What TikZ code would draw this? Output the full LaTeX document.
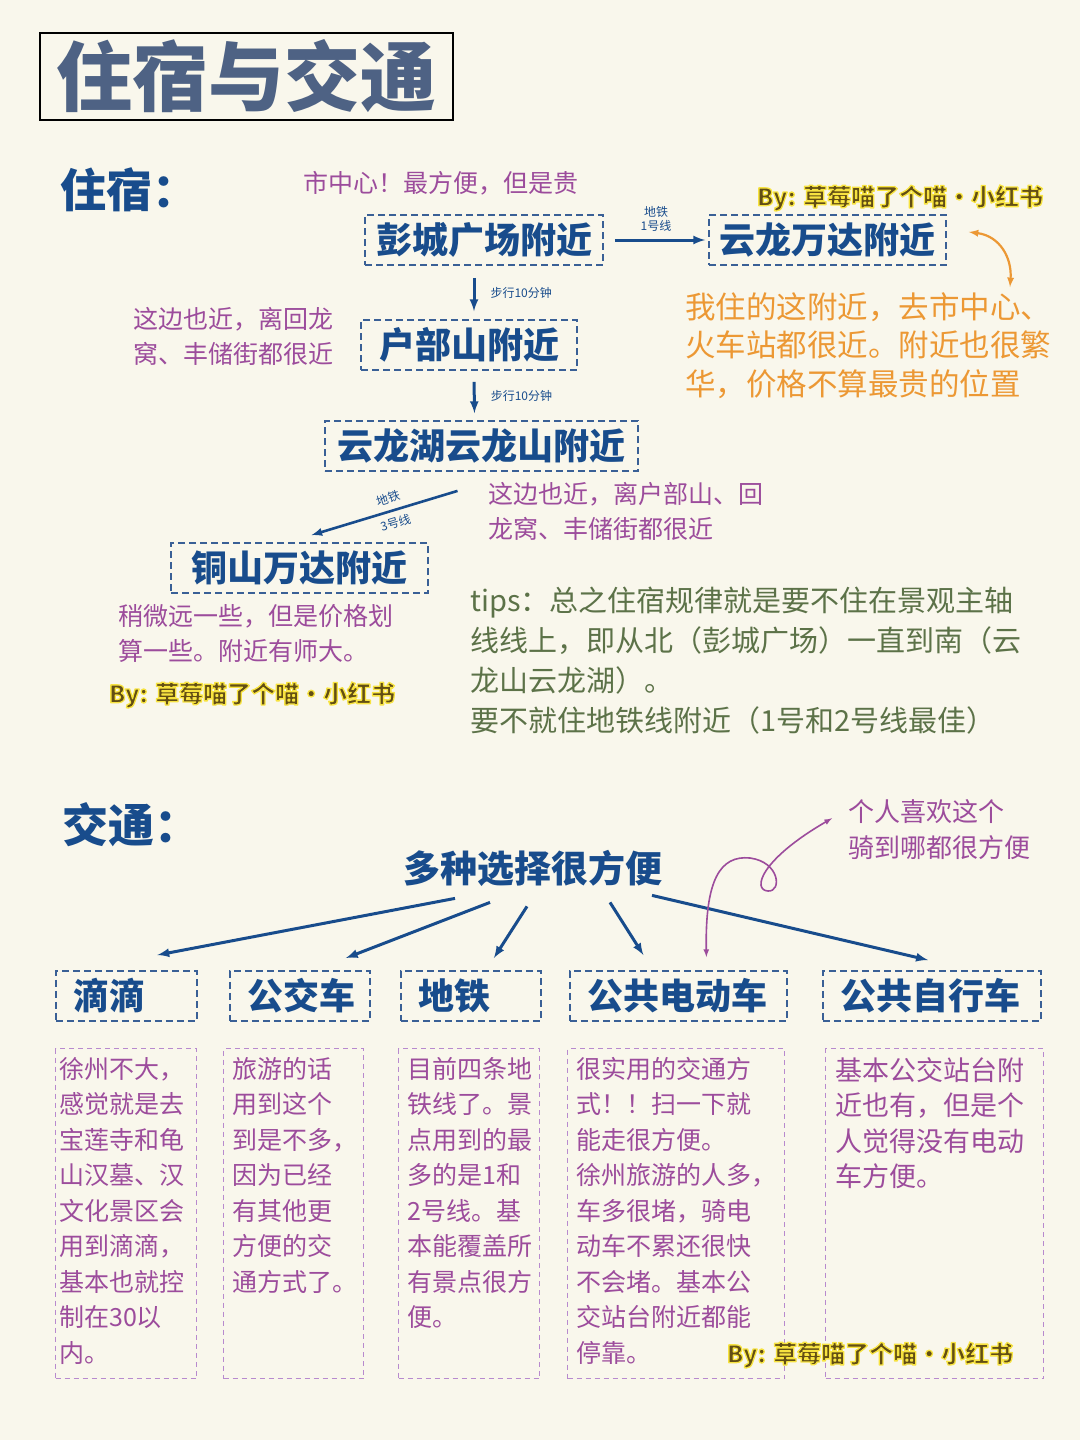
\documentclass[tikz,border=0pt]{standalone}
\usepackage{fontspec}
\setmainfont{Noto Sans CJK SC}
\usepackage{xcolor}
\usetikzlibrary{arrows,positioning}
\definecolor{qpaper}{RGB}{249,247,236}
\definecolor{qnavy}{RGB}{24,76,140}
\definecolor{qbox}{RGB}{58,96,150}
\definecolor{qslate}{RGB}{78,98,132}
\definecolor{qpurple}{RGB}{156,76,156}
\definecolor{qlilac}{RGB}{184,138,206}
\definecolor{qorange}{RGB}{236,152,52}
\definecolor{qgreen}{RGB}{92,114,72}
\definecolor{qolive}{RGB}{98,78,20}
\newcommand\glowtext[1]{\special{pdf:literal direct 1 j 1.3 w 0.97 0.89 0.25 RG 2 Tr}#1\special{pdf:literal direct 0 Tr 0 j}}

\tikzset{
  place/.style={draw=qbox, dash pattern=on 7pt off 4pt, line width=1.8pt, text=qnavy,
    font=\fontsize{36}{40}\selectfont\bfseries, minimum height=50pt, inner sep=0pt},
  mode/.style={place, anchor=north west, inner xsep=18pt, align=left},
  detail/.style={draw=qlilac, dash pattern=on 5pt off 4pt, line width=1.4pt,
    anchor=north west, minimum height=330pt},
  memo/.style={text=qpurple, font=\fontsize{25}{35.5}\selectfont, align=left, inner sep=0pt},
  head/.style={text=qnavy, font=\fontsize{46}{50}\selectfont\bfseries, inner sep=0pt},
  go/.style={draw=qnavy, line width=3pt, -latex},
  tiny/.style={text=qnavy, font=\fontsize{12}{14}\selectfont, inner sep=0pt, align=center},
  stamp/.style={text=qolive, font=\fontsize{24}{26}\selectfont\bfseries, inner sep=0pt},
}

\begin{document}
\begin{tikzpicture}[x=1pt,y=-1pt]
\fill[qpaper] (0,0) rectangle (1080,1440);
\useasboundingbox (0,0) rectangle (1080,1440);

\node[draw, line width=2.5pt, minimum width=413pt, minimum height=87pt, inner sep=0pt,
  text=qslate, font=\fontsize{76}{80}\selectfont\bfseries] (title) at (246.5,76.5) {住宿与交通};

\node[head, anchor=west] (zs) at (60,190) {住宿：};
\node[memo, anchor=west] (center) at (303,183) {市中心！最方便，但是贵};

\node[place, minimum width=238pt] (pc) at (484,240) {彭城广场附近};
\node[place, minimum width=237pt] (yl) at (827.5,240) {云龙万达附近};
\node[place, minimum width=216pt] (hbs) at (469,345) {户部山附近};
\node[place, minimum width=313pt] (ylh) at (481.5,446) {云龙湖云龙山附近};
\node[place, minimum width=257pt] (tsw) at (299.5,568) {铜山万达附近};

\draw[go, shorten <=11pt, shorten >=3pt] (pc.east) -- (yl.west)
  node[midway, above=7pt, tiny] (m1) {地铁\\1号线};
\draw[go, shorten <=12pt, shorten >=8pt] ([xshift=-10pt]pc.south) -- ([xshift=5pt]hbs.north)
  node[midway, right=15pt, tiny] (w1) {步行10分钟};
\draw[go, shorten <=11pt, shorten >=7pt] ([xshift=5pt]hbs.south) -- ([xshift=-7pt]ylh.north)
  node[midway, right=15pt, tiny] (w2) {步行10分钟};
\draw[go, line width=2.6pt] ([xshift=-24pt,yshift=-19pt]ylh.south) -- ([xshift=12pt,yshift=7pt]tsw.north)
  node[pos=0.45, above=6pt, sloped, tiny] (m3a) {地铁}
  node[pos=0.45, below=6pt, sloped, tiny] (m3b) {3号线};

\node[stamp] (wm1) at (900,198) {\glowtext{By: 草莓喵了个喵·小红书}};
\coordinate (oa) at (1010,287);
\draw[qorange, line width=2.2pt, latex-latex] ([xshift=22pt,yshift=8pt]yl.east)
  .. controls (1000,236) and (1012,258) .. (oa);
\node[anchor=north west, text=qorange, font=\fontsize{30.5}{38.5}\selectfont, align=left, inner sep=0pt] (yltxt)
  at (685,292) {我住的这附近，去市中心、\\火车站都很近。附近也很繁\\华，价格不算最贵的位置};

\node[memo, anchor=north west] (hbstxt) at (133,307) {这边也近，离回龙\\窝、丰储街都很近};
\node[memo, anchor=north west] (ylhtxt) at (488,482) {这边也近，离户部山、回\\龙窝、丰储街都很近};
\node[memo, anchor=north west] (tswtxt) at (118,604) {稍微远一些，但是价格划\\算一些。附近有师大。};
\node[stamp] (wm2) at (252,695) {\glowtext{By: 草莓喵了个喵·小红书}};

\node[anchor=north west, text=qgreen, font=\fontsize{29}{40}\selectfont, align=left, inner sep=0pt] (tips)
  at (470,587) {tips：总之住宿规律就是要不住在景观主轴\\线线上，即从北（彭城广场）一直到南（云\\龙山云龙湖）。\\要不就住地铁线附近（1号和2号线最佳）};

\node[head, anchor=west] (jt) at (62,825) {交通：};
\node[text=qnavy, font=\fontsize{37}{40}\selectfont\bfseries, inner sep=0pt] (hub) at (533,868) {多种选择很方便};
\node[memo, anchor=north west, font=\fontsize{26}{36}\selectfont] (like) at (848,799) {个人喜欢这个\\骑到哪都很方便};

\node[mode, text width=105pt] (didi) at (55,970) {滴滴};
\node[mode, text width=104pt] (bus) at (229,970) {公交车};
\node[mode, text width=104pt] (metro) at (400,970) {地铁};
\node[mode, text width=181pt] (ebike) at (569,970) {公共电动车};
\node[mode, text width=182pt] (bike) at (822,970) {公共自行车};

\draw[go] ([xshift=-78pt,yshift=-12pt]hub.south) -- ([xshift=31pt,yshift=15pt]didi.north);
\draw[go] ([xshift=-43pt,yshift=-16pt]hub.south) -- ([xshift=46pt,yshift=12pt]bus.north);
\draw[go] ([xshift=-6pt,yshift=-20pt]hub.south) -- ([xshift=23pt,yshift=12pt]metro.north);
\draw[go] ([xshift=77pt,yshift=-16pt]hub.south) -- ([xshift=-35pt,yshift=15pt]ebike.north);
\draw[go] ([xshift=119pt,yshift=-9pt]hub.south) -- ([xshift=-4pt,yshift=10pt]bike.north);

\draw[qpurple, line width=1.6pt, latex-latex] ([xshift=28pt,yshift=13pt]ebike.north)
  .. controls (705,880) and (720,855) .. (750,858)
  .. controls (780,862) and (782,892) .. (768,891)
  .. controls (752,890) and (760,860) .. ([xshift=-16pt,yshift=11pt]like.west);

\node[detail, minimum width=141pt] (d1) at (55,1048) {};
\node[detail, minimum width=140pt] (d2) at (223,1048) {};
\node[detail, minimum width=141pt] (d3) at (398,1048) {};
\node[detail, minimum width=217pt] (d4) at (567,1048) {};
\node[detail, minimum width=218pt] (d5) at (825,1048) {};

\node[memo, anchor=north west] (d1txt) at (59,1057) {徐州不大，\\感觉就是去\\宝莲寺和龟\\山汉墓、汉\\文化景区会\\用到滴滴，\\基本也就控\\制在30以\\内。};
\node[memo, anchor=north west] (d2txt) at (232,1057) {旅游的话\\用到这个\\到是不多，\\因为已经\\有其他更\\方便的交\\通方式了。};
\node[memo, anchor=north west] (d3txt) at (407,1057) {目前四条地\\铁线了。景\\点用到的最\\多的是1和\\2号线。基\\本能覆盖所\\有景点很方\\便。};
\node[memo, anchor=north west] (d4txt) at (576,1057) {很实用的交通方\\式！！扫一下就\\能走很方便。\\徐州旅游的人多，\\车多很堵，骑电\\动车不累还很快\\不会堵。基本公\\交站台附近都能\\停靠。};
\node[memo, anchor=north west, font=\fontsize{27}{35.5}\selectfont] (d5txt) at (835,1057) {基本公交站台附\\近也有，但是个\\人觉得没有电动\\车方便。};
\node[stamp] (wm3) at (870,1355) {\glowtext{By: 草莓喵了个喵·小红书}};

\end{tikzpicture}
\end{document}
